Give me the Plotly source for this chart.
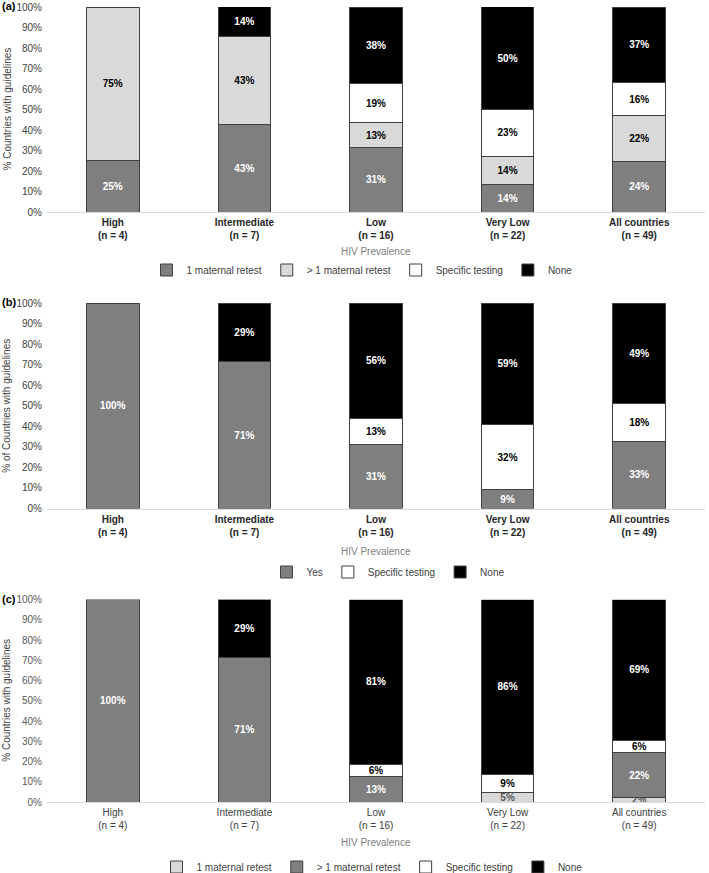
import plotly.graph_objects as go

# categories (HIV prevalence groups)
cats_bold = ["<b>High<br>(n = 4)</b>", "<b>Intermediate<br>(n = 7)</b>", "<b>Low<br>(n = 16)</b>",
             "<b>Very Low<br>(n = 22)</b>", "<b>All countries<br>(n = 49)</b>"]
cats_plain = ["High<br>(n = 4)", "Intermediate<br>(n = 7)", "Low<br>(n = 16)",
              "Very Low<br>(n = 22)", "All countries<br>(n = 49)"]

# panel (a)
a_one_retest = [25, 42.86, 31.25, 13.64, 24.49]
a_multi_retest = [75, 42.86, 12.5, 13.64, 22.45]
a_specific = [None, None, 18.75, 22.73, 16.33]
a_none = [None, 14.29, 37.5, 50, 36.73]

# panel (b)
b_yes = [100, 71.43, 31.25, 9.09, 32.65]
b_specific = [None, None, 12.5, 31.82, 18.37]
b_none = [None, 28.57, 56.25, 59.09, 48.98]

# panel (c)
c_one_retest = [None, None, None, 4.55, 2.04]
c_multi_retest = [100, 71.43, 12.5, None, 22.45]
c_specific = [None, None, 6.25, 9.09, 6.12]
c_none = [None, 28.57, 81.25, 86.36, 69.39]

DARK = "#7f7f7f"
LIGHT = "#d9d9d9"
FONT = "Liberation Sans, Arial, sans-serif"

fig = go.Figure()


def add(vals, name, color, txtcolor, xaxis, yaxis, legend, cats, bold=True, clip=True):
    tt = "<b>%{y:.0f}%</b>" if bold else "%{y:.0f}%"
    fig.add_trace(go.Bar(
        x=cats, y=vals, name=name, xaxis=xaxis, yaxis=yaxis, legend=legend,
        marker=dict(color=color, line=dict(color="#404040", width=1)),
        width=0.4, texttemplate=tt, textposition="inside", insidetextanchor="middle",
        constraintext="none", textangle=0, cliponaxis=clip,
        insidetextfont=dict(color=txtcolor, size=10, family=FONT),
    ))


add(a_one_retest, "1 maternal retest", DARK, "white", "x", "y", "legend", cats_bold)
add(a_multi_retest, "> 1 maternal retest", LIGHT, "black", "x", "y", "legend", cats_bold)
add(a_specific, "Specific testing", "white", "black", "x", "y", "legend", cats_bold)
add(a_none, "None", "black", "white", "x", "y", "legend", cats_bold)

add(b_yes, "Yes", DARK, "white", "x2", "y2", "legend2", cats_bold)
add(b_specific, "Specific testing", "white", "black", "x2", "y2", "legend2", cats_bold)
add(b_none, "None", "black", "white", "x2", "y2", "legend2", cats_bold)

add(c_one_retest, "1 maternal retest", LIGHT, "#595959", "x3", "y3", "legend3", cats_plain, clip=False)
add(c_multi_retest, "> 1 maternal retest", DARK, "white", "x3", "y3", "legend3", cats_plain)
add(c_specific, "Specific testing", "white", "black", "x3", "y3", "legend3", cats_plain)
add(c_none, "None", "black", "white", "x3", "y3", "legend3", cats_plain)

H = 873.0
W = 709.0
panels = [(7, 212), (303, 508.5), (599.5, 802)]
xdom = [47 / W, 705 / W]

xa = dict(domain=xdom, showline=True, linecolor="#d9d9d9", linewidth=1, ticks="", automargin=False,
          tickfont=dict(size=10, color="#262626", family=FONT), showgrid=False, ticklabelstandoff=1)
ya = dict(range=[0, 100], dtick=10, ticksuffix="%", showgrid=False, zeroline=False, automargin=False,
          tickfont=dict(size=10, color="#404040", family=FONT), ticks="", ticklabelstandoff=4)

layout = dict(barmode="stack", width=709, height=873, plot_bgcolor="white", paper_bgcolor="white",
              margin=dict(l=0, r=0, t=0, b=0, autoexpand=False), font=dict(family=FONT, color="#404040"))
names = ["", "2", "3"]
for i, (top, bot) in enumerate(panels):
    s = names[i]
    layout["xaxis" + s] = dict(xa, anchor="y" + s)
    layout["yaxis" + s] = dict(ya, anchor="x" + s, domain=[1 - bot / H, 1 - top / H])
fig.update_layout(**layout)
fig.update_layout(xaxis3=dict(tickfont=dict(size=10, color="#404040", family=FONT)),
                  yaxis3=dict(tickfont=dict(size=10, color="#595959", family=FONT)))

leg_y = [270, 572, 867]
leg_x = [362, 388, 372]
for i, y in enumerate(leg_y):
    key = "legend" + names[i]
    fig.update_layout({key: dict(orientation="h", x=leg_x[i] / W, xanchor="center", y=1 - y / H,
                                 yanchor="middle", font=dict(size=10, color="#404040", family=FONT),
                                 traceorder="normal", bgcolor="rgba(0,0,0,0)", itemwidth=30)})

ann = []
titles = ["% Countries with guidelines", "% of Countries with guidelines", "% Countries with guidelines"]
labels = ["(a)", "(b)", "(c)"]
hiv_y = [252, 551, 842]
for i, (top, bot) in enumerate(panels):
    ann.append(dict(text=titles[i], x=7 / W, y=1 - (top + bot) / 2 / H, xref="paper", yref="paper",
                    textangle=-90, showarrow=False, font=dict(size=10, color="#404040"),
                    xanchor="center", yanchor="middle"))
    ann.append(dict(text="<b>" + labels[i] + "</b>", x=0, y=1 - (top - 1) / H, xref="paper", yref="paper",
                    showarrow=False, font=dict(size=11, color="black"), xanchor="left", yanchor="middle"))
    ann.append(dict(text="HIV Prevalence", x=376 / W, y=1 - hiv_y[i] / H, xref="paper", yref="paper",
                    showarrow=False, font=dict(size=10, color="#808080"), xanchor="center", yanchor="middle"))
fig.update_layout(annotations=ann)

# drop the browser's default 8px body margin so the figure sits at the page corner
fig.write_html("out.html", config={"displayModeBar": False},
               post_script="document.body.style.margin='0';")
